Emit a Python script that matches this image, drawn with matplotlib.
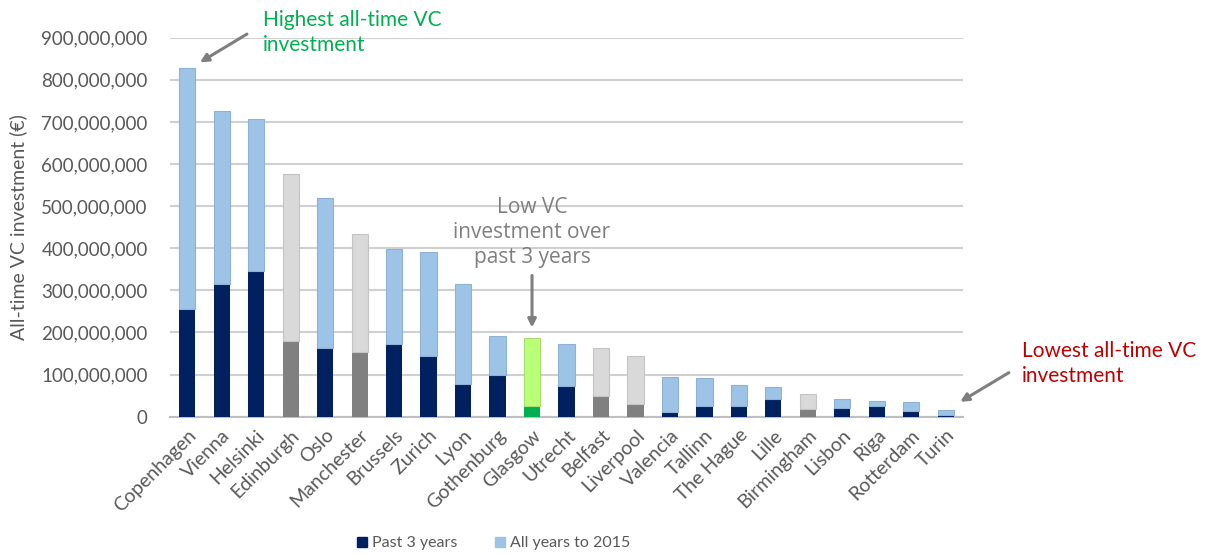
import matplotlib
matplotlib.use("Agg")
import matplotlib.pyplot as plt
import numpy as np
from matplotlib.ticker import FuncFormatter, MultipleLocator
from matplotlib.lines import Line2D

cities = ["Copenhagen", "Vienna", "Helsinki", "Edinburgh", "Oslo", "Manchester",
          "Brussels", "Zurich", "Lyon", "Gothenburg", "Glasgow", "Utrecht",
          "Belfast", "Liverpool", "Valencia", "Tallinn", "The Hague", "Lille",
          "Birmingham", "Lisbon", "Riga", "Rotterdam", "Turin"]
# totals (all-time) and past 3 years, in euros
all_time = [829e6, 725e6, 708e6, 577e6, 520e6, 435e6, 398e6, 392e6, 316e6, 192e6,
            188e6, 173e6, 164e6, 143e6, 94e6, 91e6, 75e6, 70e6, 54e6, 42e6,
            37e6, 34e6, 16e6]
past3 = [256e6, 316e6, 346e6, 180e6, 162e6, 154e6, 173e6, 145e6, 78e6, 98e6,
         26e6, 73e6, 50e6, 30e6, 12e6, 25e6, 25e6, 42e6, 18e6, 20e6,
         26e6, 13e6, 4e6]
# colour group per city
group = ["blue", "blue", "blue", "grey", "blue", "grey", "blue", "blue", "blue", "blue",
         "green", "blue", "grey", "grey", "blue", "blue", "blue", "blue", "grey", "blue",
         "blue", "blue", "blue"]

palette = {
    "blue": ("#002060", "#9DC3E6"),
    "grey": ("#808080", "#D9D9D9"),
    "green": ("#00B050", "#B9FF77"),
}
edge = {"blue": "#8FB1D6", "grey": "#C4C4C4", "green": "#A8E070"}

W, H = 1208, 556
fig = plt.figure(figsize=(W / 100, H / 100), dpi=100)
ax = fig.add_axes([170 / W, 1 - 416.7 / H, (963 - 170) / W, (416.7 - 37.7) / H])

x = np.arange(len(cities))
earlier = [t - p for t, p in zip(all_time, past3)]
dark_cols = [palette[g][0] for g in group]
light_cols = [palette[g][1] for g in group]
edge_cols = [edge[g] for g in group]
bw = 0.47
ax.bar(x, past3, width=bw, color=dark_cols, zorder=3, linewidth=0)
ax.bar(x, earlier, bottom=past3, width=bw, color=light_cols, edgecolor=edge_cols,
       linewidth=0.8, zorder=3)

ax.set_xlim(-0.5, len(cities) - 0.5)
ax.set_ylim(0, 900e6)
ax.yaxis.set_major_locator(MultipleLocator(100e6))
ax.yaxis.set_major_formatter(FuncFormatter(lambda v, p: f"{int(round(v)):,}"))
ax.grid(axis="y", color="#D0D0D0", linewidth=1.5, zorder=0)
for s in ["top", "right", "left"]:
    ax.spines[s].set_visible(False)
ax.spines["bottom"].set_color("#BFBFBF")
ax.spines["bottom"].set_linewidth(1.5)
ax.tick_params(axis="both", length=0, colors="#595959")
ax.tick_params(axis="y", labelsize=13.5, pad=16)
ax.set_xticks(x)
ax.set_xticklabels(cities, rotation=45, ha="right", rotation_mode="anchor",
                   fontsize=14, family="Lato", color="#595959")
for lab in ax.get_yticklabels():
    lab.set_family("Lato")
ax.tick_params(axis="x", pad=7)
ax.set_ylabel("All-time VC investment (€)", fontsize=14, family="Lato",
              color="#595959", labelpad=10)

# annotations
arrow_kw = dict(arrowstyle="-|>", color="#7F7F7F", lw=2.2, mutation_scale=12)
ax.annotate("", xy=(0.3, 838e6), xytext=(1.8, 912e6),
            arrowprops=arrow_kw, annotation_clip=False)
ax.text(2.2, 965e6, "Highest all-time VC\ninvestment", color="#00B050",
        fontsize=15, family="Lato", va="top", ha="left", linespacing=1.3)

ax.text(10, 522e6, "Low VC\ninvestment over\npast 3 years", color="#7F7F7F",
        fontsize=15, family="Open Sans", va="top", ha="center", linespacing=1.25)
ax.annotate("", xy=(10, 205e6), xytext=(10, 342e6), arrowprops=arrow_kw)

ax.annotate("", xy=(22.35, 32e6), xytext=(23.9, 108e6),
            arrowprops=arrow_kw, annotation_clip=False)
ax.text(24.2, 180e6, "Lowest all-time VC\ninvestment", color="#C00000",
        fontsize=15, family="Lato", va="top", ha="left", linespacing=1.3)

handles = [Line2D([], [], marker="s", linestyle="", markersize=7, color="#002060"),
           Line2D([], [], marker="s", linestyle="", markersize=7, color="#9DC3E6")]
fig.legend(handles, ["Past 3 years", "All years to 2015"], loc="center",
           bbox_to_anchor=(492 / W, 1 - 543 / H), ncol=2, frameon=False,
           prop={"family": "Lato", "size": 11.5}, labelcolor="#595959",
           handletextpad=0.1, columnspacing=2.2, handlelength=1.0)

fig.savefig("out.png", dpi=100)
